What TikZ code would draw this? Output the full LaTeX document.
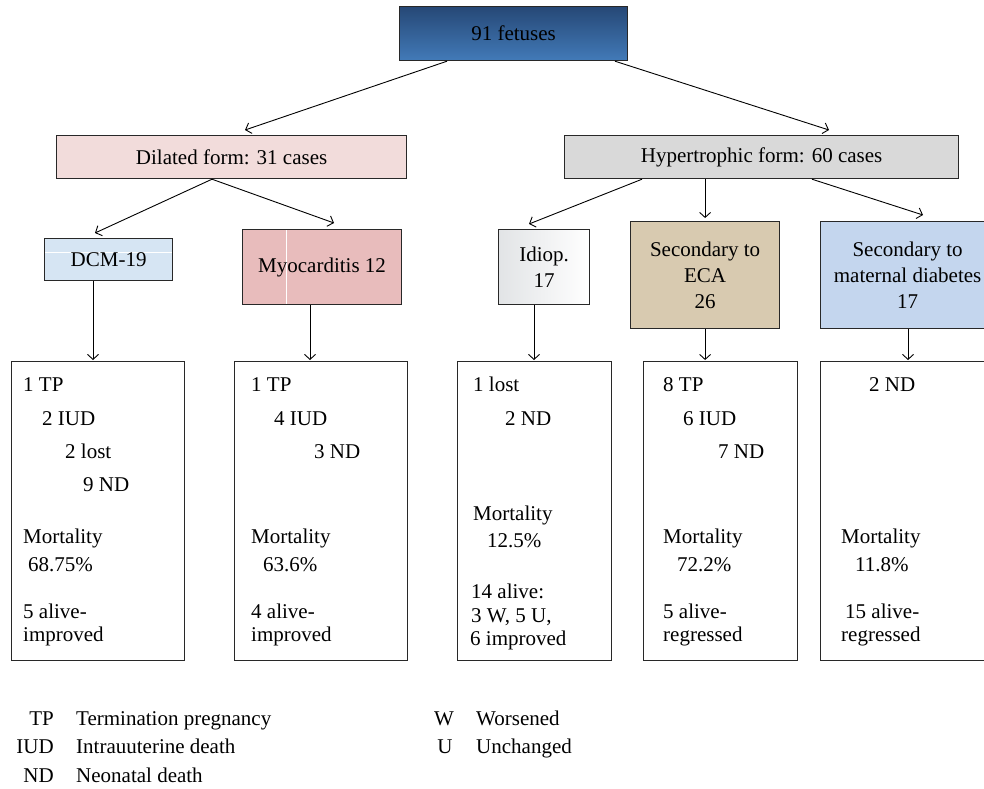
\documentclass[tikz,border=0pt]{standalone}
\usepackage{fontspec}
\setmainfont{Liberation Serif}
\usetikzlibrary{arrows.meta,calc}
\definecolor{topA}{RGB}{38,72,118}
\definecolor{topB}{RGB}{66,122,184}
\definecolor{dilfill}{RGB}{242,220,219}
\definecolor{hypfill}{RGB}{217,217,217}
\definecolor{dcmfill}{RGB}{214,229,243}
\definecolor{myofill}{RGB}{232,188,188}
\definecolor{idifill}{RGB}{226,228,230}
\definecolor{ecafill}{RGB}{216,202,176}
\definecolor{diafill}{RGB}{196,214,238}
\definecolor{edge}{RGB}{40,40,40}
\begin{document}
\begin{tikzpicture}[x=1pt,y=-1pt,
  fnt/.style={font=\fontsize{21}{26}\selectfont},
  boxshape/.style={draw=edge, line width=1.2pt, rectangle, inner sep=0pt,
    anchor=north west, align=center, fnt},
  txt/.style={anchor=base west, inner sep=0pt, fnt},
  legkey/.style={anchor=base east, inner sep=0pt, fnt},
  conn/.style={line width=0.9pt, draw=black, -{Straight Barb[length=5pt,width=11pt,line width=0.9pt]}}]
\useasboundingbox (0,0) rectangle (984,788);
\clip (0,0) rectangle (984,788);

% top level
\node[boxshape, minimum width=228pt, minimum height=54pt, top color=topA, bottom color=topB] (top) at (399,6) {91 fetuses};

% second level
\node[boxshape, fill=dilfill, minimum width=350pt, minimum height=43pt] (dil) at (56,135) {Dilated form: 31 cases};
\node[boxshape, fill=hypfill, minimum width=394pt, minimum height=43pt] (hyp) at (564,135) {Hypertrophic form: 60 cases};

% third level
\node[boxshape, fill=dcmfill, minimum width=128pt, minimum height=42pt,
  path picture={\draw[white, line width=0.8pt]
    ($(path picture bounding box.north west)+(0,14)$) -- ($(path picture bounding box.north east)+(0,14)$);}]
  (dcm) at (44,238) {DCM-19};
\node[boxshape, fill=myofill, minimum width=159pt, minimum height=75pt,
  path picture={\draw[white, line width=0.8pt]
    ($(path picture bounding box.north west)+(44,0)$) -- ($(path picture bounding box.south west)+(44,0)$);}]
  (myo) at (242,229) {Myocarditis 12};
\node[boxshape, left color=idifill, right color=white, minimum width=91pt, minimum height=75pt] (idi) at (498,229) {Idiop.\\17};
\node[boxshape, fill=ecafill, minimum width=149pt, minimum height=107pt] (eca) at (630,221) {Secondary to\\ECA\\26};
\node[boxshape, fill=diafill, minimum width=174pt, minimum height=107pt] (dia) at (820,221) {Secondary to\\maternal diabetes\\17};

% bottom boxes
\node[boxshape, minimum width=173pt, minimum height=299pt] (b1) at (11,361) {};
\node[boxshape, minimum width=173pt, minimum height=299pt] (b2) at (234,361) {};
\node[boxshape, minimum width=154pt, minimum height=299pt] (b3) at (457,361) {};
\node[boxshape, minimum width=154pt, minimum height=299pt] (b4) at (643,361) {};
\node[boxshape, minimum width=173pt, minimum height=299pt] (b5) at (820,361) {};

% box 1 texts
\node[txt] (b1a) at (23,391) {1 TP};
\node[txt] (b1b) at (42,425) {2 IUD};
\node[txt] (b1c) at (65,458) {2 lost};
\node[txt] (b1d) at (83,491) {9 ND};
\node[txt] (b1e) at (23,543) {Mortality};
\node[txt] (b1f) at (28,571) {68.75\%};
\node[txt] (b1g) at (23,618) {5 alive-};
\node[txt] (b1h) at (23,641) {improved};

% box 2 texts
\node[txt] (b2a) at (251,391) {1 TP};
\node[txt] (b2b) at (274,425) {4 IUD};
\node[txt] (b2c) at (314,458) {3 ND};
\node[txt] (b2e) at (251,543) {Mortality};
\node[txt] (b2f) at (263,571) {63.6\%};
\node[txt] (b2g) at (251,618) {4 alive-};
\node[txt] (b2h) at (251,641) {improved};

% box 3 texts
\node[txt] (b3a) at (473,391) {1 lost};
\node[txt] (b3b) at (505,425) {2 ND};
\node[txt] (b3e) at (473,520) {Mortality};
\node[txt] (b3f) at (487,547) {12.5\%};
\node[txt] (b3g) at (471,598) {14 alive:};
\node[txt] (b3h) at (471,622) {3 W, 5 U,};
\node[txt] (b3i) at (470,645) {6 improved};

% box 4 texts
\node[txt] (b4a) at (663,391) {8 TP};
\node[txt] (b4b) at (683,425) {6 IUD};
\node[txt] (b4c) at (718,458) {7 ND};
\node[txt] (b4e) at (663,543) {Mortality};
\node[txt] (b4f) at (677,571) {72.2\%};
\node[txt] (b4g) at (663,618) {5 alive-};
\node[txt] (b4h) at (663,641) {regressed};

% box 5 texts
\node[txt] (b5a) at (869,391) {2 ND};
\node[txt] (b5e) at (841,543) {Mortality};
\node[txt] (b5f) at (855,571) {11.8\%};
\node[txt] (b5g) at (845,618) {15 alive-};
\node[txt] (b5h) at (841,641) {regressed};

% connectors
\draw[conn] ($(top.south west)+(48,0)$) -- ($(dil.north west)+(189,-5)$);
\draw[conn] ($(top.south west)+(216,0)$) -- ($(hyp.north west)+(265,-5)$);
\draw[conn] ($(dil.south west)+(156,0)$) -- ($(dcm.north west)+(51,-5)$);
\draw[conn] ($(dil.south west)+(156,0)$) -- ($(myo.north west)+(92,-6)$);
\draw[conn] ($(hyp.south west)+(78,0)$) -- ($(idi.north west)+(31,-5)$);
\draw[conn] (hyp.south -| eca.north) -- ($(eca.north)+(0,-3)$);
\draw[conn] ($(hyp.south west)+(248,0)$) -- ($(dia.north west)+(103,-6)$);
\draw[conn] ($(dcm.south west)+(49,0)$) -- ($(b1.north west)+(49+33,-1)$);
\draw[conn] ($(myo.south west)+(68,0)$) -- ($(b2.north west)+(76,-1)$);
\draw[conn] ($(idi.south west)+(36,0)$) -- ($(b3.north west)+(77,-1)$);
\draw[conn] (eca.south) -- ($(eca.south |- b4.north)+(0,-1)$);
\draw[conn] ($(dia.south west)+(88,0)$) -- ($(b5.north west)+(88,-1)$);

% legend
\node[legkey] (k1) at (54,725) {TP};
\node[txt] (v1) at (76,725) {Termination pregnancy};
\node[legkey] (k2) at (54,753) {IUD};
\node[txt] (v2) at (76,753) {Intrauuterine death};
\node[legkey] (k3) at (54,782) {ND};
\node[txt] (v3) at (76,782) {Neonatal death};
\node[anchor=base, inner sep=0pt, fnt] (k4) at (444,725) {W};
\node[txt] (v4) at (476,725) {Worsened};
\node[anchor=base, inner sep=0pt, fnt] (k5) at (445,753) {U};
\node[txt] (v5) at (476,753) {Unchanged};
\end{tikzpicture}
\end{document}
